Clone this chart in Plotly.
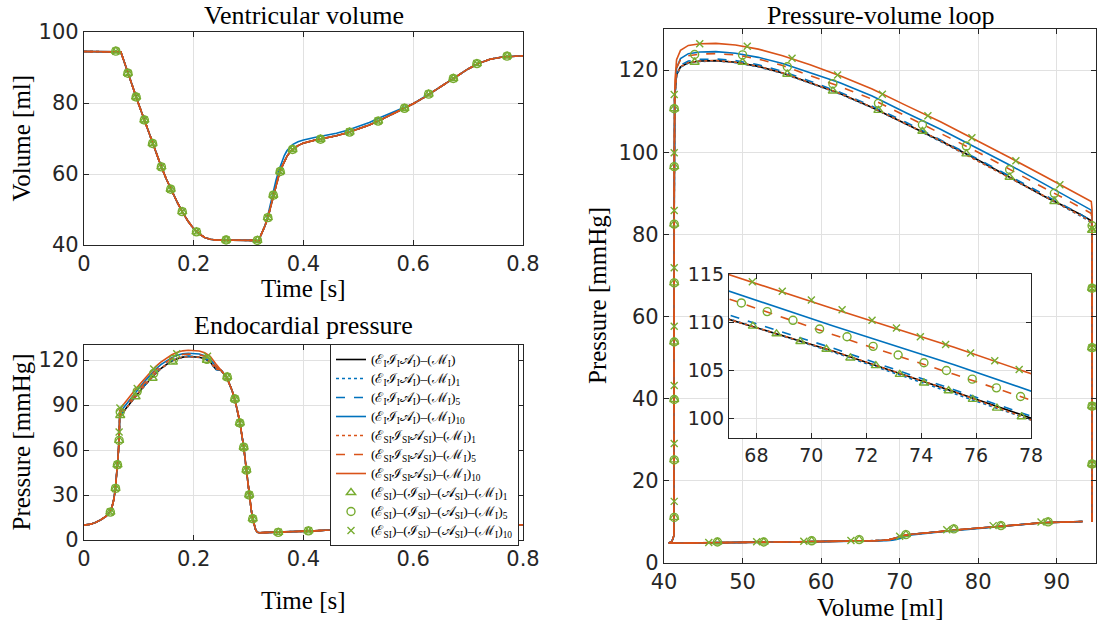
import plotly.graph_objects as go

# ---------------- data ----------------
# isovolumetric contraction (shared by all models)
t_pre = [0.0, 0.01, 0.02, 0.03, 0.04, 0.045, 0.05, 0.054, 0.057, 0.06, 0.062, 0.064]
v_pre = [94.5, 94.5, 94.5, 94.5, 94.5, 94.5, 94.5, 94.5, 94.5, 94.5, 94.5, 94.5]
p_pre = [10.0, 10.4, 11.5, 13.3, 15.8, 17.6, 20.5, 26.5, 33.5, 44.0, 55.0, 67.0]

# ejection
t_ej = [0.065, 0.067, 0.07, 0.075, 0.08, 0.09, 0.10, 0.11, 0.12, 0.13, 0.14,
        0.15, 0.16, 0.17, 0.18, 0.19, 0.20, 0.21, 0.22, 0.23, 0.24]
v_ej = [94.5, 94.4, 93.1, 90.7, 88.4, 84.0, 79.5, 75.2, 70.8, 66.5, 62.4,
        58.6, 55.1, 52.0, 49.1, 46.6, 44.6, 43.1, 42.1, 41.6, 41.4]
p_ej_eia = [81.5, 83.3, 84.8, 87.1, 89.3, 93.9, 98.6, 102.8, 107.0, 110.9, 114.3,
            116.9, 119.3, 120.9, 121.9, 122.3, 122.2, 121.8, 120.8, 118.8, 114.0]
p_ej_eia1 = [81.0, 82.9, 84.4, 86.9, 89.2, 93.8, 98.4, 102.6, 106.9, 110.8, 114.2,
             116.8, 119.2, 120.8, 121.8, 122.2, 122.1, 121.7, 120.7, 118.6, 113.6]
p_ej_eia5 = [81.3, 83.3, 84.8, 87.3, 89.6, 94.2, 98.8, 103.0, 107.3, 111.2, 114.6,
             117.3, 119.7, 121.3, 122.3, 122.7, 122.6, 122.2, 121.2, 119.2, 114.3]
p_ej_eia10 = [84.0, 85.9, 87.3, 89.9, 92.3, 96.9, 101.4, 105.6, 109.6, 113.7, 116.9,
              119.4, 121.6, 123.1, 124.1, 124.5, 124.4, 124.0, 122.8, 120.5, 116.0]
p_ej_esi1 = [81.0, 83.0, 84.5, 87.0, 89.3, 93.9, 98.3, 102.8, 107.0, 110.9, 114.3,
             116.9, 119.3, 120.9, 121.9, 122.3, 122.2, 121.8, 120.8, 118.8, 114.0]
p_ej_esi5 = [83.0, 85.1, 86.5, 89.0, 91.3, 95.8, 100.5, 104.6, 108.7, 112.9, 116.0,
             118.7, 121.1, 122.7, 123.7, 124.0, 123.9, 123.5, 122.5, 120.5, 115.5]
p_ej_esi10 = [86.0, 88.0, 89.3, 91.8, 94.2, 98.7, 103.2, 107.4, 111.4, 115.4, 118.6,
              121.3, 123.5, 125.1, 126.1, 126.5, 126.4, 126.0, 124.8, 122.5, 117.5]

# isovolumetric relaxation + filling
t_fill = [0.25, 0.26, 0.27, 0.275, 0.28, 0.284, 0.287, 0.291, 0.296, 0.301,
          0.305, 0.3075, 0.31, 0.313, 0.316, 0.318, 0.32, 0.325, 0.33, 0.335,
          0.34, 0.345, 0.35, 0.355, 0.36, 0.365, 0.37, 0.375, 0.38, 0.39,
          0.40, 0.42, 0.44, 0.46, 0.48, 0.50, 0.52, 0.54, 0.56, 0.58,
          0.60, 0.62, 0.64, 0.66, 0.68, 0.70, 0.72, 0.74, 0.76, 0.78, 0.80]
v_fill = [41.35, 41.35, 41.3, 41.3, 41.3, 41.3, 41.3, 41.3, 41.3, 41.3,
          41.3, 41.3, 41.3, 41.25, 41.0, 40.6, 41.9, 43.5, 45.5, 47.7,
          50.8, 54.0, 57.0, 59.6, 61.8, 63.6, 65.0, 66.1, 66.9, 68.0,
          68.7, 69.5, 70.1, 70.8, 71.6, 72.6, 73.8, 75.2, 76.7, 78.2,
          79.8, 81.6, 83.6, 85.6, 87.6, 89.6, 91.2, 92.3, 92.9, 93.2, 93.3]
v_fill_eia10 = [41.35, 41.35, 41.3, 41.3, 41.3, 41.3, 41.3, 41.3, 41.3, 41.3,
                41.3, 41.3, 41.3, 41.25, 41.0, 40.6, 41.9, 43.5, 45.5, 48.3,
                51.8, 55.2, 58.3, 61.0, 63.3, 65.2, 66.6, 67.6, 68.3, 69.1,
                69.6, 70.3, 70.8, 71.5, 72.3, 73.3, 74.5, 75.9, 77.3, 78.5,
                79.8, 81.6, 83.6, 85.6, 87.6, 89.6, 91.2, 92.3, 92.9, 93.2, 93.3]
p_fill = [113.0, 108.5, 99.5, 93.5, 86.0, 78.5, 71.5, 62.0, 46.5, 30.0,
          19.5, 14.0, 9.8, 6.6, 5.2, 4.9, 4.85, 4.9, 4.95, 5.0,
          5.05, 5.1, 5.15, 5.2, 5.25, 5.3, 5.35, 5.4, 5.45, 5.55,
          5.7, 6.1, 6.5, 6.8, 7.0, 7.2, 7.45, 7.7, 7.95, 8.2,
          8.45, 8.75, 9.1, 9.4, 9.7, 9.9, 10.0, 10.05, 10.1, 10.1, 10.1]

# marker series: ventricular volume panel (all three coincide)
vm_t = [0.058, 0.080, 0.095, 0.110, 0.125, 0.141, 0.158, 0.179, 0.205, 0.259, 0.316, 0.335,
        0.345, 0.3575, 0.380, 0.431, 0.484, 0.536, 0.584, 0.628, 0.673, 0.716, 0.771]
vm_v = [94.6, 88.4, 81.7, 75.2, 68.6, 62.0, 55.7, 49.4, 43.7, 41.4, 41.3, 47.7,
        54.0, 60.7, 66.9, 69.8, 71.8, 74.9, 78.5, 82.5, 86.9, 91.1, 93.2]

# marker series: endocardial pressure panel
pm1_t = [0.048, 0.0575, 0.061, 0.064, 0.066, 0.094, 0.125, 0.162, 0.224, 0.261, 0.275, 0.284,
         0.291, 0.296, 0.301, 0.3075, 0.354, 0.409, 0.466, 0.522, 0.578, 0.636, 0.691, 0.747]
pm1_p = [18.6, 34.4, 50.2, 66.4, 83.0, 95.5, 107.8, 118.6, 119.8, 108.7, 94.0, 78.0,
         61.8, 46.6, 30.0, 14.2, 5.1, 6.1, 6.9, 7.5, 8.1, 9.1, 9.9, 10.1]
pm5_t = [0.048, 0.0575, 0.061, 0.064, 0.066, 0.097, 0.127, 0.163, 0.224, 0.261, 0.275, 0.284,
         0.291, 0.296, 0.301, 0.3075, 0.354, 0.409, 0.466, 0.522, 0.578, 0.636, 0.691, 0.747]
pm5_p = [18.6, 34.4, 50.2, 66.4, 85.4, 99.1, 111.1, 120.4, 120.4, 108.7, 94.0, 78.0,
         61.8, 46.6, 30.0, 14.2, 5.1, 6.1, 6.9, 7.5, 8.1, 9.1, 9.9, 10.1]
pm10_t = [0.048, 0.0575, 0.061, 0.064, 0.0655, 0.097, 0.127, 0.169, 0.225, 0.261, 0.275, 0.284,
          0.291, 0.296, 0.301, 0.3075, 0.354, 0.409, 0.466, 0.522, 0.578, 0.636, 0.691, 0.747]
pm10_p = [18.6, 34.4, 50.2, 72.0, 88.0, 101.0, 114.0, 124.2, 122.5, 108.7, 94.0, 78.0,
          61.8, 46.6, 30.0, 14.2, 5.1, 6.1, 6.9, 7.5, 8.1, 9.1, 9.9, 10.1]

# marker series: pressure-volume loop panel
pv1_v = [94.5, 94.5, 94.5, 94.5, 94.5, 89.7, 84.0, 78.5, 72.9, 67.3, 61.5, 55.7, 50.0, 43.9,
         41.3, 41.3, 41.3, 41.3, 41.3, 41.3, 41.3, 41.3,
         46.8, 52.7, 58.8, 64.85, 70.8, 76.9, 82.9, 88.9]
pv1_p = [24.1, 38.2, 52.4, 66.9, 81.0, 88.0, 93.9, 99.6, 105.1, 110.2, 114.9, 119.0, 121.9, 121.9,
         110.6, 96.5, 82.5, 68.2, 53.8, 39.8, 25.1, 11.1,
         5.1, 5.1, 5.4, 5.7, 6.9, 8.3, 9.1, 10.0]
pv5_v = [94.5, 94.5, 94.5, 94.5, 94.5, 89.7, 84.0, 78.5, 72.9, 67.3, 61.5, 55.7, 50.0, 43.9,
         41.3, 41.3, 41.3, 41.3, 41.3, 41.3, 41.3, 41.3,
         46.8, 52.7, 58.8, 64.85, 70.8, 76.9, 82.9, 88.9]
pv5_p = [24.1, 38.2, 52.4, 66.9, 82.1, 90.0, 95.8, 101.5, 106.7, 111.9, 116.7, 120.8, 123.7, 123.8,
         110.6, 96.5, 82.5, 68.2, 53.8, 39.8, 25.1, 11.1,
         5.1, 5.1, 5.4, 5.7, 6.9, 8.3, 9.1, 10.0]
pv10_v = [94.5, 94.5, 94.5, 94.5, 94.5, 90.4, 84.8, 79.2, 73.6, 67.8, 62.1, 56.3, 50.6, 44.55,
          41.3, 41.3, 41.3, 41.3, 41.3, 41.3, 41.3, 41.3,
          45.7, 51.8, 57.8, 63.8, 70.0, 76.0, 81.9, 88.0]
pv10_p = [24.1, 38.2, 52.4, 66.9, 81.5, 92.1, 97.9, 103.5, 108.9, 114.1, 118.8, 122.9, 125.8, 126.4,
          114.05, 99.9, 85.8, 71.9, 57.65, 43.2, 29.1, 15.0,
          5.0, 5.2, 5.3, 5.5, 6.5, 8.1, 9.1, 10.0]

# marker series: inset
in1_v = [67.87, 68.73, 69.6, 70.55, 71.42, 72.35, 73.22, 74.1, 75.0, 75.88, 76.76, 77.66]
in1_p = [109.6, 108.8, 108.0, 107.2, 106.3, 105.5, 104.6, 103.7, 102.9, 102.0, 101.1, 100.2]
in5_v = [67.45, 68.39, 69.33, 70.3, 71.3, 72.25, 73.16, 74.1, 74.92, 75.86, 76.74, 77.62]
in5_p = [112.0, 111.1, 110.2, 109.3, 108.5, 107.5, 106.6, 105.8, 105.0, 104.1, 103.2, 102.3]
in10_v = [67.85, 68.94, 70.0, 71.12, 72.21, 73.1, 73.97, 74.89, 75.8, 76.68, 77.57]
in10_p = [114.2, 113.2, 112.3, 111.3, 110.2, 109.4, 108.5, 107.7, 106.8, 106.0, 105.1]

# tick labels
time_ticks = [0, 0.2, 0.4, 0.6, 0.8]
time_ticktext = ["0", "0.2", "0.4", "0.6", "0.8"]
vol_ticks = [40, 60, 80, 100]
pres_ticks = [0, 30, 60, 90, 120]
pv_x_ticks = [40, 50, 60, 70, 80, 90]
pv_y_ticks = [0, 20, 40, 60, 80, 100, 120]
in_x_ticks = [68, 70, 72, 74, 76, 78]
in_y_ticks = [100, 105, 110, 115]

# legend labels
names = [
    "(ℰ<sub>I</sub>ℐ<sub>I</sub>𝒜<sub>I</sub>)–(ℳ<sub>I</sub>)",
    "(ℰ<sub>I</sub>ℐ<sub>I</sub>𝒜<sub>I</sub>)–(ℳ<sub>I</sub>)<sub>1</sub>",
    "(ℰ<sub>I</sub>ℐ<sub>I</sub>𝒜<sub>I</sub>)–(ℳ<sub>I</sub>)<sub>5</sub>",
    "(ℰ<sub>I</sub>ℐ<sub>I</sub>𝒜<sub>I</sub>)–(ℳ<sub>I</sub>)<sub>10</sub>",
    "(ℰ<sub>SI</sub>ℐ<sub>SI</sub>𝒜<sub>SI</sub>)–(ℳ<sub>I</sub>)<sub>1</sub>",
    "(ℰ<sub>SI</sub>ℐ<sub>SI</sub>𝒜<sub>SI</sub>)–(ℳ<sub>I</sub>)<sub>5</sub>",
    "(ℰ<sub>SI</sub>ℐ<sub>SI</sub>𝒜<sub>SI</sub>)–(ℳ<sub>I</sub>)<sub>10</sub>",
    "(ℰ<sub>SI</sub>)–(ℐ<sub>SI</sub>)–(𝒜<sub>SI</sub>)–(ℳ<sub>I</sub>)<sub>1</sub>",
    "(ℰ<sub>SI</sub>)–(ℐ<sub>SI</sub>)–(𝒜<sub>SI</sub>)–(ℳ<sub>I</sub>)<sub>5</sub>",
    "(ℰ<sub>SI</sub>)–(ℐ<sub>SI</sub>)–(𝒜<sub>SI</sub>)–(ℳ<sub>I</sub>)<sub>10</sub>",
]

# ---------------- assemble series ----------------
t_all = t_pre + t_ej + t_fill
v_all = v_pre + v_ej + v_fill
v_all_eia10 = v_pre + v_ej + v_fill_eia10
series = [
    # (name index, volume, pressure, color, dash)
    (0, v_all, p_pre + p_ej_eia + p_fill, "#000000", "solid"),
    (1, v_all, p_pre + p_ej_eia1 + p_fill, "#0072BD", "dot"),
    (2, v_all, p_pre + p_ej_eia5 + p_fill, "#0072BD", "dash"),
    (3, v_all_eia10, p_pre + p_ej_eia10 + p_fill, "#0072BD", "solid"),
    (4, v_all, p_pre + p_ej_esi1 + p_fill, "#D95319", "dot"),
    (5, v_all, p_pre + p_ej_esi5 + p_fill, "#D95319", "dash"),
    (6, v_all, p_pre + p_ej_esi10 + p_fill, "#D95319", "solid"),
]
GREEN = "#77AC30"
mk_styles = [
    (7, "triangle-up-open", 8),
    (8, "circle-open", 8),
    (9, "x-thin-open", 7),
]
LW = 1.6


def leg(text):
    return '<span style="font-size:13.5px">' + text + "</span>"


fig = go.Figure()

# --- volume vs time
for i, v, p, c, d in series:
    fig.add_trace(go.Scatter(x=t_all, y=v, mode="lines", line=dict(color=c, dash=d, width=LW),
                             xaxis="x", yaxis="y", showlegend=False))
for i, sym, sz in mk_styles:
    fig.add_trace(go.Scatter(x=vm_t, y=vm_v, mode="markers",
                             marker=dict(symbol=sym, size=sz, color=GREEN, line=dict(color=GREEN, width=1.4)),
                             xaxis="x", yaxis="y", showlegend=False))

# --- pressure vs time (carries the legend)
for i, v, p, c, d in series:
    fig.add_trace(go.Scatter(x=t_all, y=p, mode="lines", name=leg(names[i]),
                             line=dict(color=c, dash=d, width=LW),
                             xaxis="x2", yaxis="y2", showlegend=True))
pm_data = [(pm1_t, pm1_p), (pm5_t, pm5_p), (pm10_t, pm10_p)]
for (i, sym, sz), (mt, mp) in zip(mk_styles, pm_data):
    fig.add_trace(go.Scatter(x=mt, y=mp, mode="markers", name=leg(names[i]),
                             marker=dict(symbol=sym, size=sz, color=GREEN, line=dict(color=GREEN, width=1.4)),
                             xaxis="x2", yaxis="y2", showlegend=True))

# --- pressure-volume loop
for i, v, p, c, d in series:
    fig.add_trace(go.Scatter(x=v, y=p, mode="lines", line=dict(color=c, dash=d, width=LW),
                             xaxis="x3", yaxis="y3", showlegend=False))
pv_data = [(pv1_v, pv1_p), (pv5_v, pv5_p), (pv10_v, pv10_p)]
for (i, sym, sz), (mv, mp) in zip(mk_styles, pv_data):
    fig.add_trace(go.Scatter(x=mv, y=mp, mode="markers",
                             marker=dict(symbol=sym, size=sz, color=GREEN, line=dict(color=GREEN, width=1.4)),
                             xaxis="x3", yaxis="y3", showlegend=False))

# --- inset
for i, v, p, c, d in series:
    fig.add_trace(go.Scatter(x=v, y=p, mode="lines", line=dict(color=c, dash=d, width=LW),
                             xaxis="x4", yaxis="y4", showlegend=False))
in_data = [(in1_v, in1_p), (in5_v, in5_p), (in10_v, in10_p)]
for (i, sym, sz), (mv, mp) in zip(mk_styles, in_data):
    fig.add_trace(go.Scatter(x=mv, y=mp, mode="markers",
                             marker=dict(symbol=sym, size=sz, color=GREEN, line=dict(color=GREEN, width=1.4)),
                             xaxis="x4", yaxis="y4", showlegend=False))

W, H = 1099, 626
AX = "#262626"
GRID = "#e1e1e1"
TICKFONT = dict(family="DejaVu Sans", size=21, color=AX)
SERIF = "Liberation Serif"


def px_x(a, b):
    return [a / W, b / W]


def px_y(top, bottom):
    return [1 - bottom / H, 1 - top / H]


def ax(domain, rng, anchor, tickvals, ticktext=None, font=TICKFONT):
    d = dict(domain=domain, range=rng, anchor=anchor, showline=True, linecolor=AX, linewidth=1.3,
             mirror="ticks", ticks="inside", ticklen=5, tickwidth=1.1, tickcolor=AX,
             showgrid=True, gridcolor=GRID, gridwidth=1, zeroline=False, automargin=False,
             tickvals=tickvals, tickfont=font, fixedrange=True)
    if ticktext is not None:
        d["ticktext"] = ticktext
    return d


LEFT_X = px_x(84, 523)
INSET_FONT = dict(family="DejaVu Sans", size=19, color=AX)
fig.update_layout(
    width=W, height=H, margin=dict(l=0, r=0, t=0, b=0, autoexpand=False),
    paper_bgcolor="white", plot_bgcolor="white",
    xaxis=ax(LEFT_X, [0, 0.8], "y", time_ticks, time_ticktext),
    yaxis=ax(px_y(32, 245), [40, 100], "x", vol_ticks),
    xaxis2=ax(LEFT_X, [0, 0.8], "y2", time_ticks, time_ticktext),
    yaxis2=ax(px_y(345, 540), [0, 130], "x2", pres_ticks),
    xaxis3=ax(px_x(664, 1096), [40, 95], "y3", pv_x_ticks),
    yaxis3=ax(px_y(29, 563), [0, 130], "x3", pv_y_ticks),
    xaxis4=ax(px_x(729, 1031), [67, 78], "y4", in_x_ticks, font=INSET_FONT),
    yaxis4=ax(px_y(274, 438), [98, 115], "x4", in_y_ticks, font=INSET_FONT),
    legend=dict(x=519 / W, y=1 - 344 / H, xanchor="right", yanchor="top",
                bgcolor="white", bordercolor=AX, borderwidth=1,
                font=dict(family=SERIF, size=11.8, color="#000000"),
                tracegroupgap=0, itemwidth=30),
    showlegend=True,
)


def label(text, x, y, angle=0, size=25):
    fig.add_annotation(text=text, x=x / W, y=1 - y / H, xref="paper", yref="paper",
                       showarrow=False, textangle=angle, xanchor="center", yanchor="middle",
                       font=dict(family=SERIF, size=size, color="#000000"))


label("Ventricular volume", 303.5, 15, size=26)
label("Time [s]", 303.5, 289)
label("Volume [ml]", 21, 138.5, angle=-90)
label("Endocardial pressure", 303.5, 325, size=26)
label("Time [s]", 303.5, 600)
label("Pressure [mmHg]", 21, 442.5, angle=-90)
label("Pressure-volume loop", 880, 15, size=26)
label("Volume [ml]", 880, 607)
label("Pressure [mmHg]", 598, 296, angle=-90)

fig.write_html("out.html", config={"displayModeBar": False},
               post_script="document.body.style.margin='0px';document.body.style.overflow='hidden';")
